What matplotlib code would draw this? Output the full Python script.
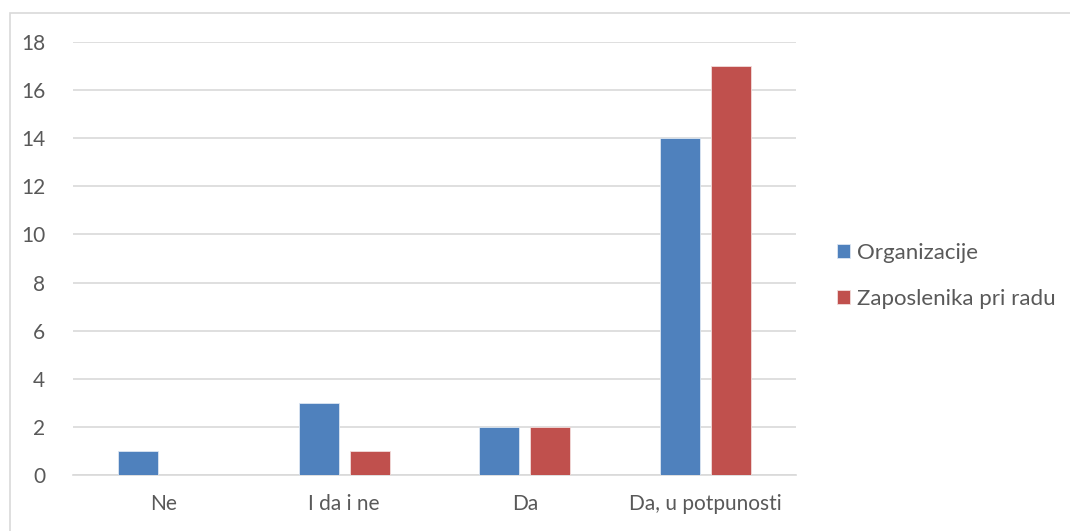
import matplotlib
matplotlib.use("Agg")
import matplotlib.pyplot as plt
import matplotlib.patches as mpatches
import numpy as np

categories = ["Ne", "I da i ne", "Da", "Da, u potpunosti"]
organizacije = [1, 3, 2, 14]
zaposlenika = [0, 1, 2, 17]
series_names = ["Organizacije", "Zaposlenika pri radu"]

BLUE = "#4F81BD"
RED = "#C0504D"
TEXT = "#595959"
GRID = "#D9D9D9"

plt.rcParams["font.family"] = ["Lato", "DejaVu Sans"]

fig = plt.figure(figsize=(10.7, 5.31), dpi=100)
ax = fig.add_axes([73 / 1070, 1 - 475 / 531, (796 - 73) / 1070, (475 - 42) / 531])

x = np.arange(len(categories))
width = 0.222
offset = 0.141
ax.bar(x - offset, organizacije, width, color=BLUE, edgecolor="#DCE6F2", linewidth=0.6,
       label=series_names[0], zorder=3)
ax.bar(x + offset, zaposlenika, width, color=RED, edgecolor="#F2DCDB", linewidth=0.6,
       label=series_names[1], zorder=3)

ax.set_xlim(-0.5, len(categories) - 0.5)
ax.set_ylim(0, 18)
ax.set_yticks(range(0, 19, 2))
ax.set_xticks(x)
ax.set_xticklabels(categories)
ax.grid(axis="y", color=GRID, linewidth=1.2, zorder=0)
for side in ["top", "right", "left"]:
    ax.spines[side].set_visible(False)
ax.spines["bottom"].set_color(GRID)
ax.spines["bottom"].set_linewidth(1.2)
ax.tick_params(axis="both", length=0, colors=TEXT, labelsize=15)
ax.tick_params(axis="y", pad=20)
ax.tick_params(axis="x", pad=14)

leg = ax.legend(loc="center left", bbox_to_anchor=(837 / 1070, 1 - 276 / 531),
                bbox_transform=fig.transFigure, frameon=False, fontsize=16,
                handlelength=0.6, handleheight=0.6, handletextpad=0.3,
                labelspacing=1.15, borderpad=0, borderaxespad=0, labelcolor=TEXT)

border = mpatches.Rectangle((9.5 / 1070, -0.05), 1.1, 1 - 12.5 / 531 + 0.05,
                            transform=fig.transFigure, fill=False,
                            edgecolor="#D9D9D9", linewidth=1.2, clip_on=False)
fig.patches.append(border)

fig.savefig("out.png", dpi=100)
